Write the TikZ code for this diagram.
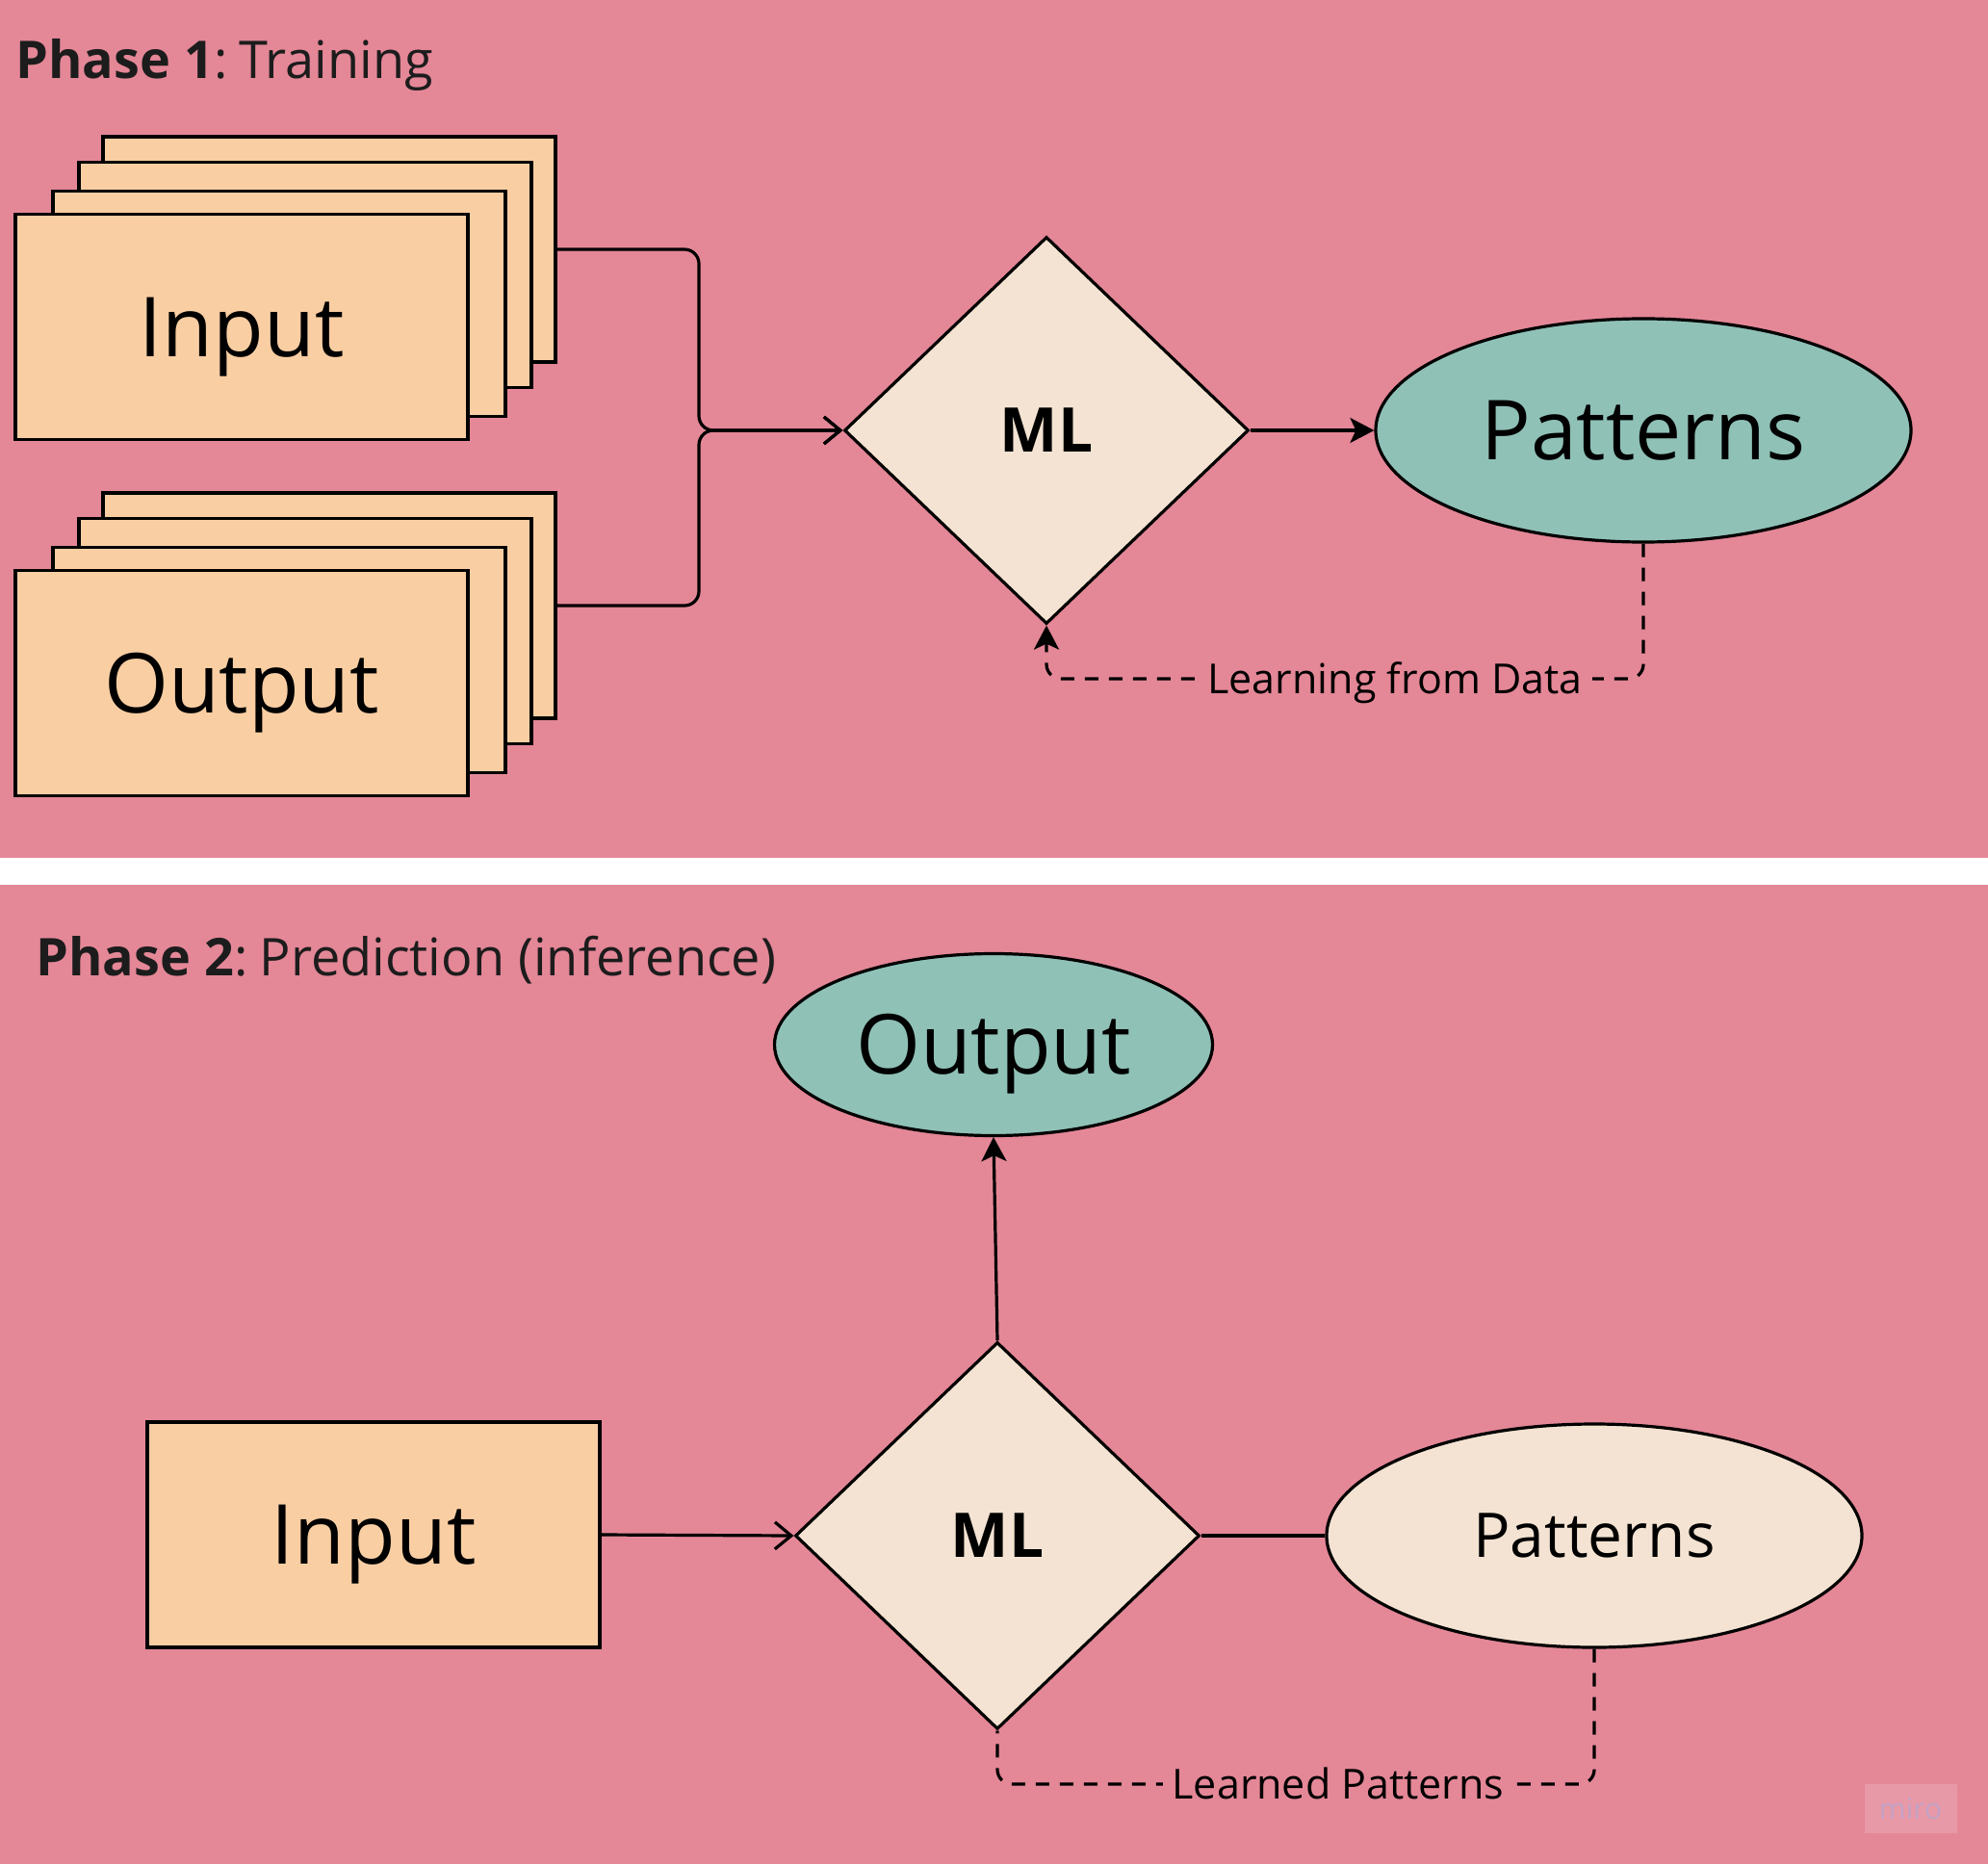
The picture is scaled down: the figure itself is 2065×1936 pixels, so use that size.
\documentclass[tikz,border=0pt]{standalone}
\usepackage{fontspec}
\setmainfont{Open Sans}
\usetikzlibrary{shapes.geometric,arrows.meta}
\definecolor{bgpink}{HTML}{E48797}
\definecolor{boxorange}{HTML}{F9CEA3}
\definecolor{beige}{HTML}{F4E3D2}
\definecolor{tealc}{HTML}{8FC1B7}
\definecolor{titlecol}{HTML}{1C1C1C}
\definecolor{miroBox}{HTML}{E899A7}
\definecolor{miroText}{HTML}{C4A2C6}
\begin{document}
\begin{tikzpicture}[x=0.5pt,y=-0.5pt,
  card/.style={draw=black, line width=1.6pt, fill=boxorange, minimum width=235pt, minimum height=117pt,
    inner sep=0pt, font=\fontsize{43}{50}\selectfont, text height=30.7pt, text depth=0pt},
  mlnode/.style={diamond, draw=black, line width=1.6pt, fill=beige, minimum width=210pt, minimum height=201pt,
    inner sep=0pt, font=\bfseries\fontsize{32}{38}\selectfont, text height=22.8pt, text depth=0pt},
  oval/.style={ellipse, draw=black, line width=1.6pt, inner sep=0pt},
  bigtext/.style={font=\fontsize{43}{50}\selectfont, text height=30.7pt, text depth=0pt},
  midtext/.style={font=\fontsize{32}{38}\selectfont, text height=22.8pt, text depth=0pt},
  conn/.style={line width=1.6pt},
  dashconn/.style={line width=1.6pt, dash pattern=on 7pt off 5.5pt, rounded corners=7.5pt},
  lbl/.style={fill=bgpink, font=\fontsize{21.5}{25}\selectfont, text height=15.3pt, text depth=0pt, inner xsep=5pt, inner ysep=3pt},
  titletext/.style={anchor=base west, inner sep=0pt, font=\fontsize{27}{32}\selectfont, text=titlecol},
  openarr/.style={-{Straight Barb[length=8.5pt,width=14pt]}},
  filledarr/.style={-{Stealth[length=12.5pt,width=13pt,inset=3pt]}}
]
\useasboundingbox (0,0) rectangle (2065,1936);
\fill[bgpink] (0,0) rectangle (2065,891);
\fill[white] (0,891) rectangle (2065,919);
\fill[bgpink] (0,919) rectangle (2065,1936);

% Phase 1
\node[titletext] (t1) at (16,82) {\textbf{Phase 1}:\hspace{-0.12em} Training};

\node[card] (in4) at (342,259) {};
\node[card] (in3) at (317,285.5) {};
\node[card] (in2) at (290,315.5) {};
\node[card] (in1) at (251,339.5) {Input};

\node[card] (out4) at (342,629) {};
\node[card] (out3) at (317,655.5) {};
\node[card] (out2) at (290,685.5) {};
\node[card] (out1) at (251,709.5) {Output};

\node[mlnode] (ml1) at (1087,447) {ML};
\node[oval, fill=tealc, minimum width=278pt, minimum height=116pt, bigtext] (pat1) at (1707,447) {Patterns};

\draw[conn, rounded corners=7.5pt, openarr] (in4.east) -- (726,259) -- (726,447) -- (ml1.west);
\draw[conn, rounded corners=7.5pt, openarr] (out4.east) -- (726,629) -- (726,447) -- (ml1.west);
\draw[conn, filledarr] (ml1.east) -- (pat1.west);
\draw[dashconn, filledarr] (pat1.south) -- (1707,705) -- (1087,705) -- (ml1.south);
\node[lbl] (lab1) at (1449,705) {Learning from Data};

% Phase 2
\node[titletext] (t2) at (37,1013) {\textbf{Phase 2}:\hspace{-0.12em} Prediction (inference)};

\node[oval, fill=tealc, minimum width=227.5pt, minimum height=94.5pt, bigtext] (outp) at (1032,1085) {Output};
\node[card] (inb) at (388,1594) {Input};
\node[mlnode] (ml2) at (1036,1595) {ML};
\node[oval, fill=beige, minimum width=278pt, minimum height=116pt, midtext] (pat2) at (1656,1595) {Patterns};

\draw[conn, filledarr] (ml2.north) -- (outp.south);
\draw[conn, openarr] (inb.east) -- (ml2.west);
\draw[conn] (ml2.east) -- (pat2.west);
\draw[dashconn] (pat2.south) -- (1656,1853) -- (1036,1853) -- (ml2.south);
\node[lbl] (lab2) at (1390,1853) {Learned Patterns};

\node[fill=miroBox, inner sep=0pt, minimum width=48pt, minimum height=25.5pt, text=miroText,
  font=\fontsize{15}{18}\selectfont] (miro) at (1984.5,1878.5) {miro};
\end{tikzpicture}
\end{document}
